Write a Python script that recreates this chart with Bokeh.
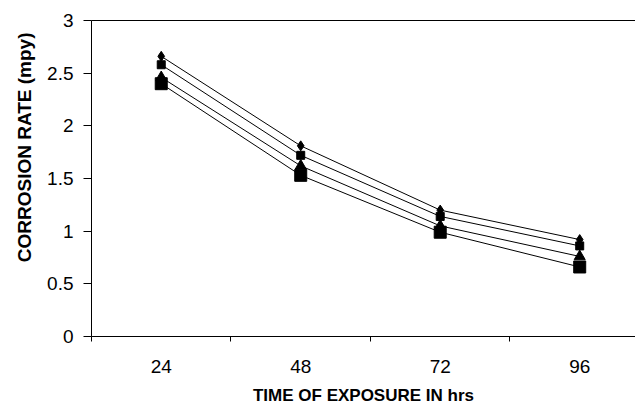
from bokeh.plotting import figure
from bokeh.models import Range1d, FixedTicker, LinearAxis, Title
from bokeh.embed import file_html
from bokeh.resources import INLINE

hours = ["24", "48", "72", "96"]
series_a = [2.66, 1.81, 1.20, 0.92]
series_b = [2.58, 1.72, 1.14, 0.86]
series_c = [2.46, 1.62, 1.05, 0.76]
series_d = [2.40, 1.53, 0.99, 0.66]
y_ticks = [0, 0.5, 1, 1.5, 2, 2.5, 3]
y_tick_labels = ["0", "0.5", "1", "1.5", "2", "2.5", "3"]

xpos = [i + 0.5 for i in range(len(hours))]
FONT = "Liberation Sans"

p = figure(width=635, height=407, output_backend="svg", toolbar_location=None,
           x_range=Range1d(0, 3.9), y_range=Range1d(0, 3),
           min_border_left=91, min_border_top=20, min_border_bottom=71,
           min_border_right=0, background_fill_color="white",
           border_fill_color="white")
p.outline_line_color = None
p.grid.visible = False

xa = p.xaxis[0]
xa.ticker = FixedTicker(ticks=xpos, minor_ticks=[0, 1, 2, 3])
xa.major_label_overrides = {x: h for x, h in zip(xpos, hours)}
xa.major_tick_out = 0
xa.major_tick_in = 0
xa.minor_tick_out = 5
xa.minor_tick_in = 0
xa.minor_tick_line_color = "black"
xa.major_label_standoff = 18
xa.major_label_text_font = FONT
xa.major_label_text_font_size = "19px"
xa.major_label_text_color = "black"
xa.axis_line_color = "black"
xa.axis_label = "TIME OF EXPOSURE IN hrs"
xa.axis_label_text_font = FONT
xa.axis_label_text_font_size = "17px"
xa.axis_label_text_font_style = "bold"
xa.axis_label_text_color = "black"
xa.axis_label_standoff = 10

ya = p.yaxis[0]
ya.ticker = FixedTicker(ticks=y_ticks, minor_ticks=[])
ya.major_label_overrides = {t: s for t, s in zip(y_ticks, y_tick_labels)}
ya.major_tick_out = 8
ya.major_tick_in = 0
ya.major_tick_line_color = "black"
ya.major_label_standoff = 10
ya.major_label_text_font = FONT
ya.major_label_text_font_size = "19px"
ya.major_label_text_color = "black"
ya.axis_line_color = "black"

top = LinearAxis(ticker=FixedTicker(ticks=[]), major_label_text_font_size="0px",
                 axis_line_color="black", major_tick_line_color=None,
                 minor_tick_line_color=None)
p.add_layout(top, "above")

markers = [("diamond", 10), ("square", 8), ("triangle", 11), ("square", 12)]
for vals, (m, s) in zip([series_a, series_b, series_c, series_d], markers):
    p.line(xpos, vals, line_color="black", line_width=1)
    p.scatter(xpos, vals, marker=m, size=s, fill_color="black", line_color="black")

p.add_layout(Title(text="CORROSION RATE (mpy)", align="right", offset=12,
                   text_font=FONT, text_font_size="19px", text_font_style="bold",
                   text_color="black", standoff=19), "left")

open("out.html", "w").write(file_html(p, INLINE))
